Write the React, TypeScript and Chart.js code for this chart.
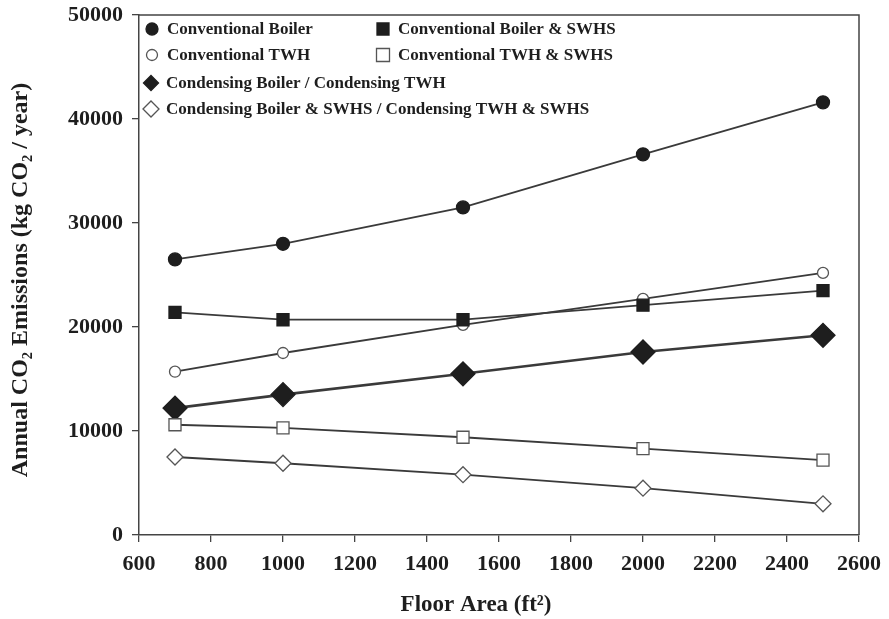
import React, { useEffect, useRef } from 'react';
import { Chart, registerables } from 'chart.js';

Chart.register(...registerables);

const floorArea = [700, 1000, 1500, 2000, 2500];
const conventionalBoiler = [26500, 28000, 31500, 36600, 41600];
const conventionalBoilerSWHS = [21400, 20700, 20700, 22100, 23500];
const conventionalTWH = [15700, 17500, 20200, 22700, 25200];
const condensingBoilerTWH = [12200, 13500, 15500, 17600, 19200];
const conventionalTWHSWHS = [10600, 10300, 9400, 8300, 7200];
const condensingSWHS = [7500, 6900, 5800, 4500, 3000];

const seriesLabels = [
  'Conventional Boiler',
  'Conventional Boiler & SWHS',
  'Conventional TWH',
  'Conventional TWH & SWHS',
  'Condensing Boiler / Condensing TWH',
  'Condensing Boiler & SWHS / Condensing TWH & SWHS',
];

const xTitle = 'Floor Area (ft\u00B2)';
const yTitle = 'Annual CO\u2082 Emissions (kg CO\u2082 / year)';
const xMin = 600;
const xMax = 2600;
const xStep = 200;
const yMin = 0;
const yMax = 50000;
const yStep = 10000;

const FONT = '"Liberation Serif", "Times New Roman", serif';
const INK = '#1e1e1e';
const LINE = '#3a3a3a';

type MarkerKind = 'circle' | 'square' | 'diamond';

function drawMarker(ctx: CanvasRenderingContext2D, kind: MarkerKind, filled: boolean, x: number, y: number, size: number) {
  ctx.save();
  ctx.beginPath();
  if (kind === 'circle') {
    ctx.arc(x, y, size, 0, Math.PI * 2);
  } else if (kind === 'square') {
    ctx.rect(x - size, y - size, size * 2, size * 2);
  } else {
    ctx.moveTo(x - size, y);
    ctx.lineTo(x, y - size);
    ctx.lineTo(x + size, y);
    ctx.lineTo(x, y + size);
    ctx.closePath();
  }
  ctx.fillStyle = filled ? INK : '#ffffff';
  ctx.fill();
  ctx.lineWidth = 1.3;
  ctx.strokeStyle = filled ? INK : '#555555';
  ctx.stroke();
  ctx.restore();
}

const legendItems: { label: string; kind: MarkerKind; filled: boolean; dx: number; dy: number; tx: number; size: number }[] = [
  { label: seriesLabels[0], kind: 'circle', filled: true, dx: 13, dy: 14, tx: 28, size: 6 },
  { label: seriesLabels[1], kind: 'square', filled: true, dx: 244, dy: 14, tx: 259, size: 6 },
  { label: seriesLabels[2], kind: 'circle', filled: false, dx: 13, dy: 40, tx: 28, size: 5.5 },
  { label: seriesLabels[3], kind: 'square', filled: false, dx: 244, dy: 40, tx: 259, size: 6.5 },
  { label: seriesLabels[4], kind: 'diamond', filled: true, dx: 12, dy: 68, tx: 27, size: 7.5 },
  { label: seriesLabels[5], kind: 'diamond', filled: false, dx: 12, dy: 94, tx: 27, size: 8 },
];

const framePlugin = {
  id: 'frameAndLegend',
  afterDraw(chart: any) {
    const { ctx, chartArea } = chart;
    const { left, top, right, bottom } = chartArea;
    ctx.save();
    ctx.strokeStyle = '#444444';
    ctx.lineWidth = 1.5;
    ctx.beginPath();
    ctx.moveTo(left, top);
    ctx.lineTo(right, top);
    ctx.lineTo(right, bottom);
    ctx.stroke();

    // legend
    ctx.font = `bold 17px ${FONT}`;
    ctx.textBaseline = 'middle';
    ctx.textAlign = 'left';
    ctx.fillStyle = INK;
    legendItems.forEach((it) => {
      drawMarker(ctx, it.kind, it.filled, left + it.dx, top + it.dy, it.size);
      ctx.fillStyle = INK;
      ctx.fillText(it.label, left + it.tx, top + it.dy + 1);
    });

    // axis titles
    ctx.font = `bold 23px ${FONT}`;
    ctx.textAlign = 'center';
    ctx.textBaseline = 'middle';
    ctx.fillText(xTitle, 476, 605);
    ctx.font = `bold 24px ${FONT}`;
    ctx.translate(21, 280);
    ctx.rotate(-Math.PI / 2);
    ctx.fillText(yTitle, 0, 0);
    ctx.restore();
  },
};

export default function App() {
  const ref = useRef<HTMLCanvasElement | null>(null);

  useEffect(() => {
    document.body.style.margin = '0';
    const canvas = ref.current;
    if (!canvas) return;

    const mk = (
      label: string,
      values: number[],
      style: string,
      radius: number,
      filled: boolean,
      width = 1.8
    ) => ({
      label,
      data: floorArea.map((x, i) => ({ x, y: values[i] })),
      borderColor: LINE,
      borderWidth: width,
      pointStyle: style,
      pointRadius: radius,
      pointBackgroundColor: filled ? INK : '#ffffff',
      pointBorderColor: filled ? INK : '#555555',
      pointBorderWidth: 1.3,
      showLine: true,
      tension: 0,
    });

    const chart = new Chart(canvas, {
      type: 'scatter',
      data: {
        datasets: [
          mk(seriesLabels[0], conventionalBoiler, 'circle', 6.5, true),
          mk(seriesLabels[1], conventionalBoilerSWHS, 'rect', 8.5, true),
          mk(seriesLabels[2], conventionalTWH, 'circle', 5.5, false),
          mk(seriesLabels[3], conventionalTWHSWHS, 'rect', 8.5, false),
          mk(seriesLabels[4], condensingBoilerTWH, 'rectRot', 12, true, 2.6),
          mk(seriesLabels[5], condensingSWHS, 'rectRot', 8, false),
        ] as any,
      },
      options: {
        responsive: false,
        animation: false,
        layout: { padding: { left: 0, top: 15, right: 30, bottom: 0 } },
        plugins: {
          legend: { display: false },
          tooltip: { enabled: false },
          title: { display: false },
        },
        scales: {
          x: {
            type: 'linear',
            min: xMin,
            max: xMax,
            ticks: {
              stepSize: xStep,
              color: INK,
              font: { family: FONT, size: 22, weight: 'bold' },
              padding: 9,
              maxRotation: 0,
              callback: (v: number) => String(v),
            },
            grid: {
              drawOnChartArea: false,
              drawTicks: true,
              tickLength: 7,
              color: '#444444',
              lineWidth: 1.3,
            },
            border: { display: true, color: '#444444', width: 1.5 },
            afterFit: (scale: any) => {
              scale.height = 84;
              scale.paddingLeft = 0;
              scale.paddingRight = 0;
            },
          },
          y: {
            type: 'linear',
            min: yMin,
            max: yMax,
            ticks: {
              stepSize: yStep,
              color: INK,
              font: { family: FONT, size: 22, weight: 'bold' },
              padding: 9,
              callback: (v: number) => String(v),
            },
            grid: {
              drawOnChartArea: false,
              drawTicks: true,
              tickLength: 7,
              color: '#444444',
              lineWidth: 1.3,
            },
            border: { display: true, color: '#444444', width: 1.5 },
            afterFit: (scale: any) => {
              scale.width = 139;
              scale.paddingTop = 0;
              scale.paddingBottom = 0;
            },
          },
        },
      } as any,
      plugins: [framePlugin],
    });

    return () => chart.destroy();
  }, []);

  return (
    <div style={{ width: 889, height: 619, background: '#ffffff' }}>
      <canvas ref={ref} width={889} height={619} style={{ display: 'block', width: 889, height: 619 }} />
    </div>
  );
}
